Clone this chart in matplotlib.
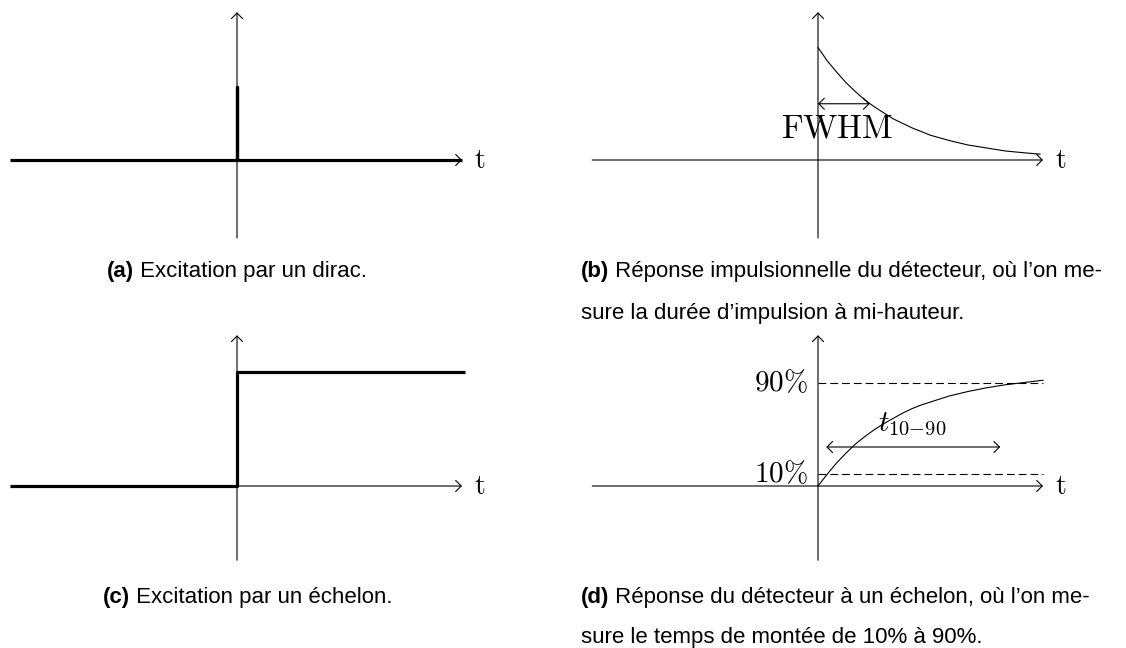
import matplotlib
matplotlib.use("Agg")
import matplotlib.pyplot as plt

plt.rcParams['mathtext.fontset'] = 'cm'

# -- data (units: 1 = 75 px in the reference) --
# (a) dirac
dirac_t = [-3.03, 0.0, 0.0, 0.0, 3.0]
dirac_y = [0.0, 0.0, 0.97, 0.0, 0.0]

# (b) impulse response
decay_t = [0.0, 0.125, 0.25, 0.375, 0.5, 0.625, 0.75, 0.875, 1.0, 1.125, 1.25,
           1.375, 1.5, 1.75, 2.0, 2.25, 2.5, 2.75, 2.96]
decay_y = [1.50, 1.32, 1.17, 1.03, 0.91, 0.80, 0.71, 0.63, 0.55, 0.49, 0.43,
           0.38, 0.33, 0.26, 0.20, 0.16, 0.12, 0.096, 0.078]
fwhm_level = 0.75
fwhm_width = 0.69

# (c) step
step_t = [-3.03, 0.0, 0.0, 3.04]
step_y = [0.0, 0.0, 1.52, 1.52]

# (d) step response
rise_t = [0.0, 0.125, 0.25, 0.375, 0.5, 0.625, 0.75, 0.875, 1.0, 1.125, 1.25,
          1.375, 1.5, 1.75, 2.0, 2.25, 2.5, 2.75, 3.0]
rise_y = [0.0, 0.16, 0.31, 0.44, 0.56, 0.66, 0.75, 0.83, 0.90, 0.97, 1.03,
          1.08, 1.12, 1.20, 1.26, 1.31, 1.35, 1.38, 1.41]
levels = [0.16, 1.37]
level_labels = [r'$10\%$', r'$90\%$']
rise_arrow = (0.11, 2.43, 0.52)

captions = [
    ('(a)', ' Excitation par un dirac.'),
    ('(b)', ' Réponse impulsionnelle du détecteur, où l’on me-'),
    ('(c)', ' Excitation par un échelon.'),
    ('(d)', ' Réponse du détecteur à un échelon, où l’on me-'),
]
second_lines = [None, 'sure la durée d’impulsion à mi-hauteur.', None,
                'sure le temps de montée de 10% à 90%.']

W, H, S = 1126, 648, 75.0
fig = plt.figure(figsize=(W / 100, H / 100), dpi=100)


def panel(ox, oy, ylo, yhi, xlo=-3.15, xhi=3.6):
    left = ox + xlo * S
    bottom = H - oy + ylo * S
    ax = fig.add_axes([left / W, bottom / H, (xhi - xlo) * S / W, (yhi - ylo) * S / H])
    ax.set_xlim(xlo, xhi)
    ax.set_ylim(ylo, yhi)
    ax.axis('off')
    return ax


def arrow(ax, x0, y0, x1, y1, style='->'):
    ax.annotate('', xy=(x1, y1), xytext=(x0, y0),
                arrowprops=dict(arrowstyle=style + ',head_length=0.4,head_width=0.4',
                                lw=0.8, color='black', shrinkA=0, shrinkB=0),
                annotation_clip=False)


def axes_arrows(ax, ylo, yhi):
    arrow(ax, -3.01, 0, 3.0, 0)
    arrow(ax, 0, ylo, 0, yhi)
    ax.text(3.24, 0, r'$\mathrm{t}$', fontsize=20, ha='center', va='center')


thin = 0.8
thick = 2.3

# (a)
ax = panel(237, 160, -1.1, 2.1)
axes_arrows(ax, -1.04, 1.97)
ax.plot(dirac_t, dirac_y, color='black', lw=thick, solid_capstyle='butt')

# (b)
ax = panel(818, 160, -1.1, 2.1)
axes_arrows(ax, -1.04, 1.97)
ax.plot(decay_t, decay_y, color='black', lw=thin)
arrow(ax, 0, fwhm_level, fwhm_width, fwhm_level, style='<->')
ax.text(0.25, 0.42, r'$\mathrm{FWHM}$', fontsize=24, ha='center', va='center')

# (c)
ax = panel(237, 486, -1.05, 2.1)
axes_arrows(ax, -0.99, 2.01)
ax.plot(step_t, step_y, color='black', lw=thick, solid_capstyle='butt')

# (d)
ax = panel(818, 486, -1.05, 2.1)
axes_arrows(ax, -0.99, 2.01)
ax.plot(rise_t, rise_y, color='black', lw=thin)
for lev, lab in zip(levels, level_labels):
    ax.plot([0, 3.0], [lev, lev], color='black', lw=thin, dashes=(7, 3.6))
    ax.text(-0.13, lev, lab, fontsize=21, ha='right', va='center')
arrow(ax, rise_arrow[0], rise_arrow[2], rise_arrow[1], rise_arrow[2], style='<->')
ax.text(1.25, 0.82, r'$t_{10{-}90}$', fontsize=21, ha='center', va='center')

# captions
cap_pos = [(107, 272), (581, 272), (103, 597), (581, 597)]
for (bold, rest), (px, py), line2 in zip(captions, cap_pos, second_lines):
    t1 = fig.text(px / W, 1 - py / H, bold, fontsize=16, fontweight='bold',
                  family='Liberation Sans', va='center', ha='left')
    plt.annotate(rest, xy=(1, 0.5), xycoords=t1, fontsize=16, family='Liberation Sans',
                 va='center', ha='left', annotation_clip=False)
    if line2:
        fig.text(px / W, 1 - (py + 41) / H, line2, fontsize=16,
                 family='Liberation Sans', va='center', ha='left')

fig.savefig('out.png', dpi=100)
